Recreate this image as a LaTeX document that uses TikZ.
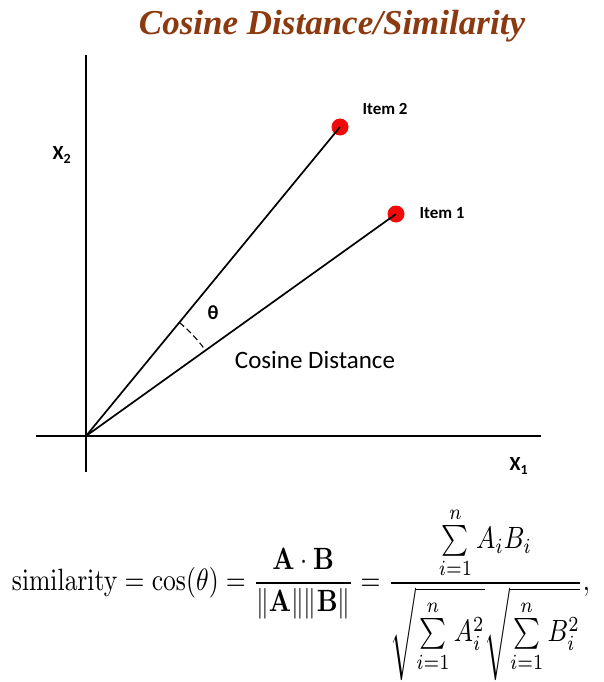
\documentclass[tikz,border=0pt]{standalone}
\usepackage{amsmath}
\usepackage[no-math]{fontspec}
\setmainfont{Liberation Serif}
\newfontfamily\calib{Carlito}
\definecolor{titlebrown}{HTML}{8B3A0F}
\definecolor{dotred}{HTML}{F20A0A}
\begin{document}
\begin{tikzpicture}[x=1pt,y=-1pt,
  axis/.style={line width=2.4pt},
  vec/.style={line width=1.7pt},
  dot/.style={circle,fill=dotred,inner sep=0pt,minimum size=17pt},
  itemlbl/.style={font=\calib\bfseries\fontsize{17}{19}\selectfont,anchor=west},
  axlbl/.style={font=\calib\bfseries\fontsize{20}{22}\selectfont}]
\useasboundingbox (0,0) rectangle (603,682);
\node[font=\bfseries\itshape\fontsize{35}{38}\selectfont,text=titlebrown] (title) at (332,26) {Cosine Distance/Similarity};
\coordinate (o) at (86,436);
\coordinate (ytop) at (86,55);
\coordinate (ybot) at (86,472);
\coordinate (xl) at (36,436);
\coordinate (xr) at (541,436);
\draw[axis] (ybot) -- (ytop);
\draw[axis] (xl) -- (xr);
\node[dot] (item2) at (340,127) {};
\node[dot] (item1) at (396,214) {};
\draw[vec] (o) -- (item2.center);
\draw[vec] (o) -- (item1.center);
\node[itemlbl] (l2) at (359,109) {Item 2};
\node[itemlbl] (l1) at (416,213) {Item 1};
\node[axlbl] (x2) at (62,155) {X\textsubscript{2}};
\node[axlbl] (x1) at (519,466) {X\textsubscript{1}};
\draw[line width=1.1pt,dash pattern=on 6pt off 3.5pt] (o) ++(-50.5:147) arc[start angle=-50.5,end angle=-36,radius=147];
\node[font=\calib\bfseries\fontsize{20}{22}\selectfont] (theta) at (213,313) {θ};
\node[font=\calib\fontsize{25}{28}\selectfont] (cd) at (315,360) {Cosine Distance};
\node[inner sep=0pt] (formula) at (301,594) {\resizebox*{578pt}{174pt}{$\displaystyle \mathrm{similarity} = \cos(\theta) = \frac{\mathbf{A}\cdot\mathbf{B}}{\|\mathbf{A}\|\|\mathbf{B}\|} = \frac{\sum\limits_{i=1}^{n} A_iB_i}{\sqrt{\sum\limits_{i=1}^{n} A_i^2}\sqrt{\sum\limits_{i=1}^{n} B_i^2}},$}};
\end{tikzpicture}
\end{document}
